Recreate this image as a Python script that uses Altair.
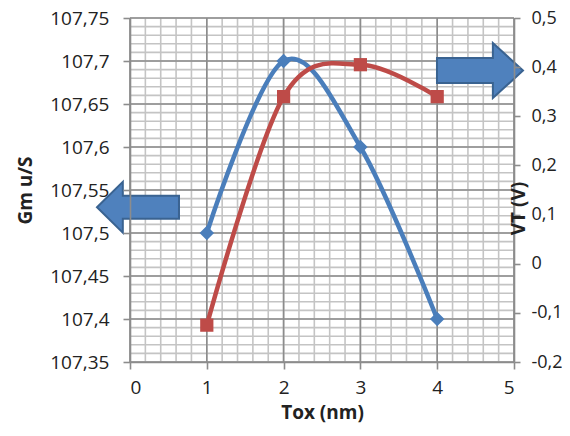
import altair as alt
import numpy as np
import pandas as pd

# ---- data ----
tox = [1, 2, 3, 4]
gm = [107.5, 107.7, 107.6, 107.4]          # left axis, Gm u/S (blue)
vt = [-0.125, 0.34, 0.405, 0.34]           # right axis, VT (V) (red)

x_ticks = [0, 1, 2, 3, 4, 5]
gm_ticks = [107.35, 107.4, 107.45, 107.5, 107.55, 107.6, 107.65, 107.7, 107.75]
vt_ticks = [-0.2, -0.1, 0, 0.1, 0.2, 0.3, 0.4, 0.5]

# grid positions (minor every 0.2 on x, every 0.01 on the left y axis)
x_minor = [round(v, 2) for v in np.arange(0, 5.0001, 0.2)]
gm_minor = [round(v, 2) for v in np.arange(107.35, 107.7501, 0.01)]

# block-arrow annotations (in data coordinates)
arrow_left = {"x": 0.104, "y": 107.53}
arrow_right = {"x": 4.557, "y": 0.393}

FONT = "Open Sans"
BLUE = "#4A7EBB"
RED = "#BE4B48"
MAJOR = "#8C8C8C"
MINOR = "#C4C4C4"
TXT = "#222222"

xs = alt.Scale(domain=[0, 5], nice=False, zero=False)
ys_left = alt.Scale(domain=[107.35, 107.75], nice=False, zero=False)
ys_right = alt.Scale(domain=[-0.2, 0.5], nice=False, zero=False)

lbl = "replace('' + datum.value, '.', ',')"

df_main = pd.DataFrame({"tox": tox, "gm": gm, "vt": vt})

x_axis = alt.Axis(values=x_ticks, title="Tox (nm)", labelExpr=lbl, grid=False,
                  orient="bottom", zindex=1,
                  tickSize=7, tickColor=MAJOR, domainColor=MAJOR, domainWidth=1.6,
                  tickWidth=1.6, labelPadding=9, labelFont=FONT, labelFontSize=19,
                  labelColor=TXT, titleFont=FONT, titleFontSize=19,
                  titleFontWeight="bold", titleColor=TXT, titlePadding=6)

left_axis = alt.Axis(values=gm_ticks, title="Gm u/S", labelExpr=lbl, grid=False,
                     orient="left", zindex=1,
                     tickSize=7, tickColor=MAJOR, domainColor=MAJOR, domainWidth=1.6,
                     tickWidth=1.6, labelPadding=14, labelFont=FONT, labelFontSize=19,
                     labelColor=TXT, titleFont=FONT, titleFontSize=19,
                     titleFontWeight="bold", titleColor=TXT, titleAngle=270,
                     titleAlign="center", titleBaseline="middle", titleX=-105, titleY=172)

right_axis = alt.Axis(values=vt_ticks, title="VT (V)", labelExpr=lbl, grid=False,
                      orient="right", zindex=1, tickSize=6, tickColor=MAJOR,
                      domainColor=MAJOR, domainWidth=1.6, tickWidth=1.6, labelPadding=11,
                      labelFont=FONT, labelFontSize=18, labelColor=TXT, titleFont=FONT,
                      titleFontSize=19, titleFontWeight="bold", titleColor=TXT,
                      titleAngle=270, titleAlign="center", titleBaseline="middle",
                      titleX=4, titleY=190)

# grid rules
vminor = alt.Chart(pd.DataFrame({"gx": x_minor})).mark_rule(
    color=MINOR, strokeWidth=1.6).encode(x=alt.X("gx:Q", scale=xs, axis=None))
hminor = alt.Chart(pd.DataFrame({"gy": gm_minor})).mark_rule(
    color=MINOR, strokeWidth=1.6).encode(y=alt.Y("gy:Q", scale=ys_left, axis=left_axis))
vmajor = alt.Chart(pd.DataFrame({"gx": x_ticks})).mark_rule(
    color=MAJOR, strokeWidth=1.6).encode(x=alt.X("gx:Q", scale=xs, axis=x_axis))
hmajor = alt.Chart(pd.DataFrame({"gy": gm_ticks})).mark_rule(
    color=MAJOR, strokeWidth=1.6).encode(y=alt.Y("gy:Q", scale=ys_left, axis=None))

base = alt.Chart(df_main)

blue_line = base.mark_line(color=BLUE, strokeWidth=4.5, interpolate="cardinal").encode(
    x=alt.X("tox:Q", scale=xs, axis=None),
    y=alt.Y("gm:Q", scale=ys_left, axis=None))
blue_pts = base.mark_point(shape="diamond", filled=True, color=BLUE, size=210, opacity=1).encode(
    x=alt.X("tox:Q", scale=xs, axis=None), y=alt.Y("gm:Q", scale=ys_left, axis=None))

red_line = base.mark_line(color=RED, strokeWidth=4.5, interpolate="cardinal").encode(
    x=alt.X("tox:Q", scale=xs, axis=None),
    y=alt.Y("vt:Q", scale=ys_right, axis=right_axis))
red_pts = base.mark_point(shape="square", filled=True, color=RED, size=175, opacity=1).encode(
    x=alt.X("tox:Q", scale=xs, axis=None), y=alt.Y("vt:Q", scale=ys_right, axis=None))

left_arrow_path = "M -1 0 L -0.37 -0.62 L -0.37 -0.28 L 1 -0.28 L 1 0.28 L -0.37 0.28 L -0.37 0.62 Z"
right_arrow_path = "M 1 0 L 0.3 -0.64 L 0.3 -0.29 L -1 -0.29 L -1 0.29 L 0.3 0.29 L 0.3 0.64 Z"

arrow_l = alt.Chart(pd.DataFrame([arrow_left])).mark_point(
    shape=left_arrow_path, filled=True, fill="#4F81BD", stroke="#3A6391",
    strokeWidth=2, size=82 * 82, opacity=1, fillOpacity=1).encode(
    x=alt.X("x:Q", scale=xs, axis=None), y=alt.Y("y:Q", scale=ys_left, axis=None))
arrow_r = alt.Chart(pd.DataFrame([arrow_right])).mark_point(
    shape=right_arrow_path, filled=True, fill="#4F81BD", stroke="#3A6391",
    strokeWidth=2, size=86 * 86, opacity=1, fillOpacity=1).encode(
    x=alt.X("x:Q", scale=xs, axis=None), y=alt.Y("y:Q", scale=ys_right, axis=None))

chart = alt.layer(
    vminor, hminor, vmajor, hmajor, blue_line, red_line, blue_pts, red_pts, arrow_l, arrow_r
).resolve_scale(x="independent", y="independent").properties(
    width=384, height=344,
    autosize=alt.AutoSizeParams(type="none"),
    padding={"left": 122, "top": 10, "right": 48, "bottom": 62},
    background="white",
).configure_view(stroke=None)

chart.save("out.html", embed_options={"renderer": "svg", "actions": False})
